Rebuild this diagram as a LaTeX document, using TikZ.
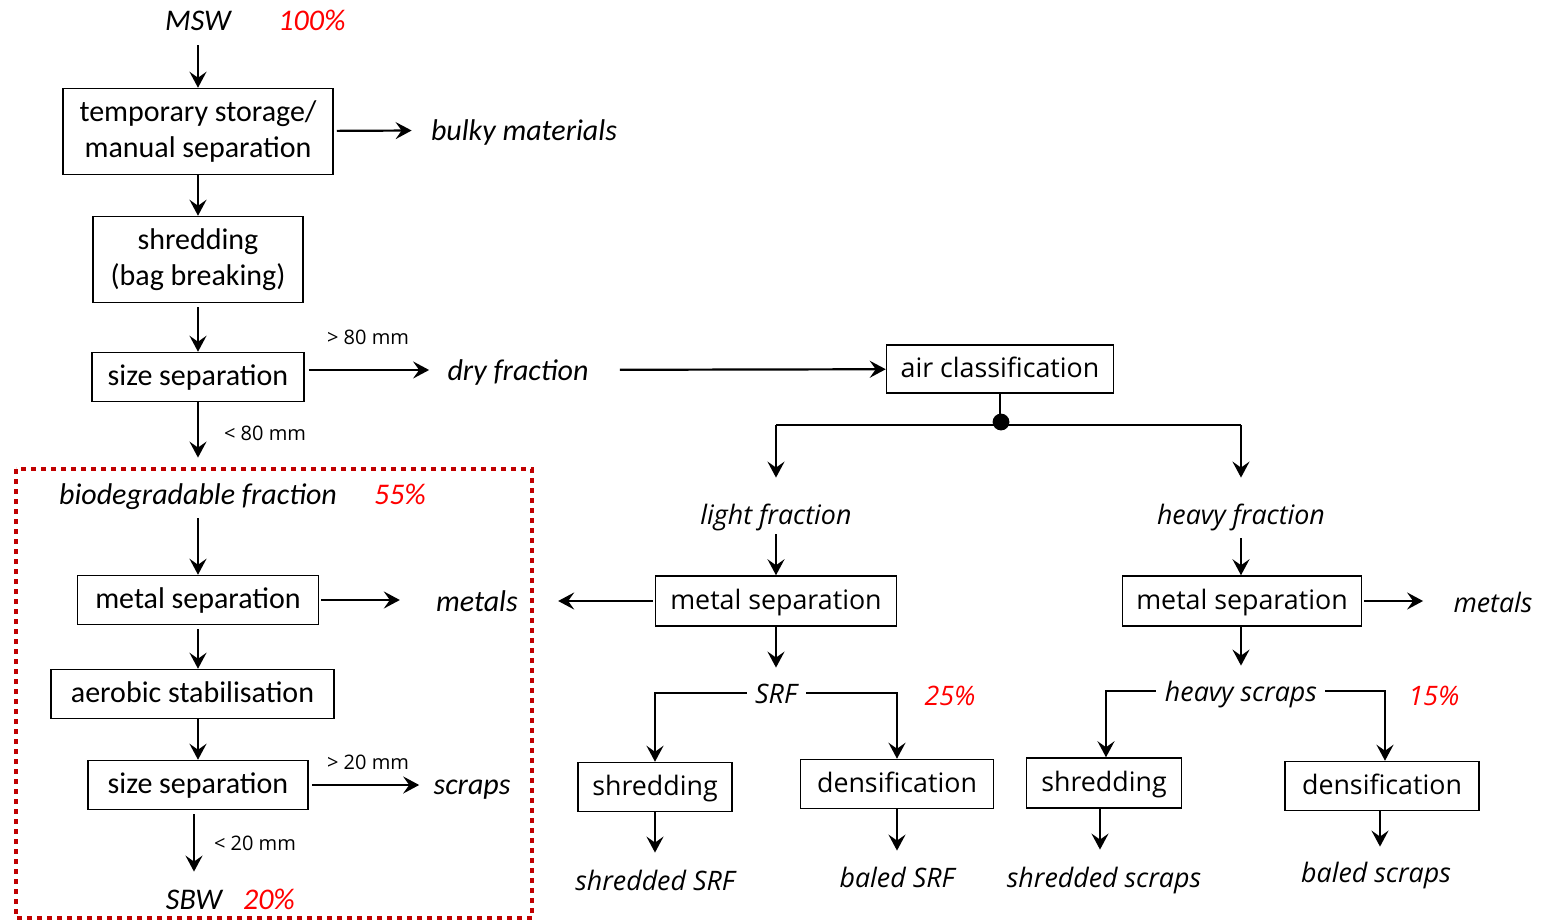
\documentclass[tikz,border=0pt]{standalone}
\usepackage{fontspec}
\setmainfont{Carlito}
\newfontfamily\seg{Open Sans}
\usetikzlibrary{arrows.meta,calc}
\definecolor{dred}{HTML}{C00000}
\begin{document}
\begin{tikzpicture}[x=0.5pt,y=-0.5pt,
 box/.style={draw, line width=0.75pt, inner sep=0pt, align=center, font=\fontsize{15}{18}\selectfont},
 sbox/.style={box, font=\seg\fontsize{13.4}{16}\selectfont, text height=11.5pt, text depth=3pt},
 one/.style={text height=11pt, text depth=3pt},
 lab/.style={inner sep=0pt, text height=12.5pt, text depth=2.5pt, font=\fontsize{15}{18}\selectfont\itshape},
 slab/.style={inner sep=0pt, text height=12.5pt, text depth=2.5pt, font=\seg\fontsize{13.4}{16}\selectfont\itshape},
 pct/.style={lab, text=red},
 spct/.style={slab, text=red},
 mm/.style={inner sep=0pt, font=\seg\fontsize{10}{12}\selectfont},
 arr/.style={line width=1.1pt, -{Stealth[length=8pt,width=8.5pt,inset=3pt]}},
 ln/.style={line width=1.1pt},
]
\useasboundingbox (0,0) rectangle (1548,921);
\fill[white] (0,0) rectangle (1548,921);

% ---- left column ----
\node[lab] (msw) at (198,20) {MSW};
\node[pct] (p100) at (312,20) {100\%};
\node[box, minimum width=135pt, minimum height=43pt] (b1) at (198,131.5) {temporary storage/\\manual separation};
\node[lab] (bulky) at (524,130) {bulky materials};
\node[box, minimum width=105pt, minimum height=43pt] (b2) at (198,259.5) {shredding\\(bag breaking)};
\node[box, one, minimum width=106pt, minimum height=24.5pt] (b3) at (198,377) {size separation};
\node[mm] (m80a) at (368,337) {> 80 mm};
\node[lab] (dry) at (518,370) {dry fraction};
\node[mm] (m80b) at (265,433) {< 80 mm};

\node[lab] (bio) at (198,494) {biodegradable fraction};
\node[pct] (p55) at (400,494) {55\%};
\node[box, one, minimum width=120.5pt, minimum height=24.5pt] (ms1) at (198,600) {metal separation};
\node[lab] (met1) at (477,601) {metals};
\node[box, one, minimum width=141.5pt, minimum height=24.5pt] (aer) at (192.5,694) {aerobic stabilisation};
\node[box, one, minimum width=110pt, minimum height=24.5pt] (ss2) at (198,785) {size separation};
\node[mm] (m20a) at (368,762) {> 20 mm};
\node[lab] (scr) at (472,784) {scraps};
\node[mm] (m20b) at (255,843) {< 20 mm};
\node[lab] (sbw) at (194,899) {SBW};
\node[pct] (p20) at (269,899) {20\%};

\draw[dred, line width=2pt, dash pattern=on 2.5pt off 2.5pt] (16,469) rectangle (532,918);

\draw[arr, shorten <=5pt] (msw) -- (b1);
\draw[arr, shorten <=1.5pt, shorten >=9.5pt] (b1) -- (bulky);
\draw[arr] (b1) -- (b2);
\draw[arr, shorten <=2pt] (b2) -- (b3);
\draw[arr, shorten <=2pt, shorten >=9pt] (b3.east |- dry) -- (dry);
\draw[arr, shorten >=10.5pt] (b3) -- (bio);
\draw[arr, shorten <=4.5pt] (bio) -- (ms1);
\draw[arr, shorten <=1pt, shorten >=18pt] (ms1) -- (ms1 -| met1.west);
\draw[arr, shorten <=2pt] (ms1.south) -- (ms1.south |- aer.north);
\draw[arr] (ms1.south |- aer.south) -- (ss2.north);
\draw[arr, shorten <=1.5pt, shorten >=7pt] (ss2) -- (ss2 -| scr.west);
\draw[arr, shorten <=2pt, shorten >=6pt] (sbw |- ss2.south) -- (sbw);

% ---- right part ----
\node[sbox, minimum width=113.5pt, minimum height=24pt] (air) at (1000,369) {air classification};
\coordinate (j) at (1000,425);
\coordinate (jl) at (776,425);
\coordinate (jr) at (1241,425);
\node[slab] (light) at (776,514) {light fraction};
\node[slab] (heavy) at (1241,514) {heavy fraction};
\node[sbox, minimum width=120.5pt, minimum height=25pt] (ms2) at (776,601) {metal separation};
\node[sbox, minimum width=119.5pt, minimum height=25pt] (ms3) at (1242,601) {metal separation};
\node[slab] (met3) at (1493,602) {metals};
\node[slab] (srf) at (776,693) {SRF};
\node[spct] (p25) at (950,695) {25\%};
\node[sbox, minimum width=77pt, minimum height=24.5pt] (sh1) at (655,787) {shredding};
\node[sbox, minimum width=96.5pt, minimum height=24.5pt] (de1) at (897,784) {densification};
\node[slab] (ssrf) at (655,880) {shredded SRF};
\node[slab] (bsrf) at (897,877) {baled SRF};
\node[slab] (hs) at (1241,691) {heavy scraps};
\node[spct] (p15) at (1434,695) {15\%};
\node[sbox, minimum width=77.5pt, minimum height=25pt] (sh2) at (1104,783) {shredding};
\node[sbox, minimum width=97pt, minimum height=24.5pt] (de2) at (1382,786) {densification};
\node[slab] (ssc) at (1104,877) {shredded scraps};
\node[slab] (bsc) at (1376,872) {baled scraps};

\draw[arr, shorten <=15.5pt] (dry) -- (air);
\draw[ln] (air) -- (j);
\fill (1001,422) circle (4.2pt);
\draw[ln] (jl) -- (jr);
\draw[arr, shorten >=10.5pt] (jl) -- (light);
\draw[arr, shorten >=10.5pt] (jr) -- (heavy);
\draw[arr, shorten <=2.5pt] (light) -- (ms2);
\draw[arr, shorten <=4.5pt] (heavy) -- (heavy |- ms3.north);
\draw[arr, shorten <=1pt, shorten >=20pt] (ms2) -- (ms2 -| met1.east);
\draw[arr, shorten <=1pt, shorten >=15pt] (ms3) -- (ms3 -| met3.west);
\draw[arr, shorten >=5pt] (ms2) -- (srf);
\draw[arr, shorten >=5pt] (heavy |- ms3.south) -- (hs);
\draw[arr, shorten <=4pt] (srf) -| (sh1);
\draw[arr, shorten <=4.5pt] (srf) -| (de1);
\draw[arr, shorten >=6pt] (sh1) -- (ssrf);
\draw[arr, shorten >=5.5pt] (de1) -- (bsrf);
\draw[arr, shorten <=4.5pt] (hs) -| ($(sh2.north)+(2,0)$);
\draw[arr, shorten <=4pt] (hs) -| ($(de2.north)+(3,0)$);
\draw[arr, shorten >=6pt] ($(sh2.south)+(-4,0)$) -- ($(ssc.north)+(-4,0)$);
\draw[arr, shorten >=5pt] ($(de2.south)+(-2,0)$) -- ($(bsc.north)+(4,0)$);
\end{tikzpicture}
\end{document}
